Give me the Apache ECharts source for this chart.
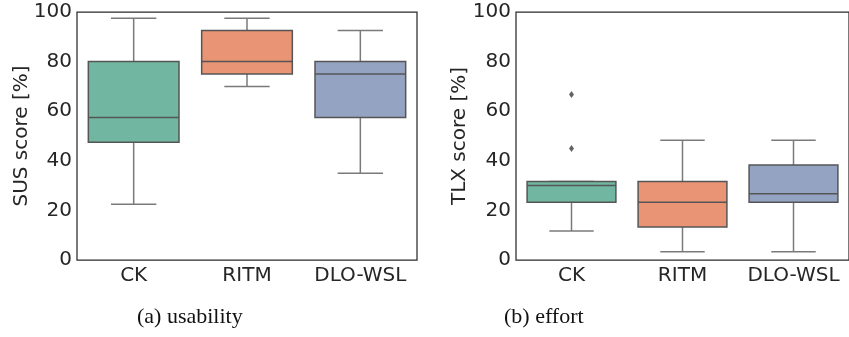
<!DOCTYPE html>
<html>
<head>
<meta charset="utf-8">
<script src="https://cdn.jsdelivr.net/npm/echarts@6/dist/echarts.min.js"></script>
<style>
html,body{margin:0;padding:0;background:#fff;}
#chart{width:849px;height:337px;}
</style>
</head>
<body>
<div id="chart"></div>
<script>
// ---- data ----
var categories = ['CK', 'RITM', 'DLO-WSL'];
var yTicks = [0, 20, 40, 60, 80, 100];
// [min whisker, Q1, median, Q3, max whisker]
var susCK   = [22.5, 47.5, 57.5, 80, 97.5];
var susRITM = [70, 75, 80, 92.5, 97.5];
var susDLO  = [35, 57.5, 75, 80, 92.5];
var tlxCK   = [11.7, 23.3, 30, 31.7, 31.7];
var tlxRITM = [3.3, 13.3, 23.3, 31.7, 48.3];
var tlxDLO  = [3.3, 23.3, 26.7, 38.3, 48.3];
var tlxOutlierCat = ['CK', 'CK'];
var tlxOutliers = [45, 66.7];
var colors = ['#71b6a0', '#e99575', '#95a3c3'];
var captions = ['(a) usability', '(b) effort'];
var yNames = ['SUS score [%]', 'TLX score [%]'];

var chart = echarts.init(document.getElementById('chart'), null, {renderer: 'canvas'});

function boxData(arrs) {
  return arrs.map(function (a, i) {
    return {value: [i].concat(a), itemStyle: {color: colors[i]}};
  });
}

function renderBox(params, api) {
  var xi = api.value(0);
  var c = api.coord([xi, api.value(3)]);
  var band = api.size([1, 0])[0];
  var bw = band * 0.8, cw = band * 0.4;
  var x = c[0];
  var yMin = api.coord([xi, api.value(1)])[1];
  var yQ1 = api.coord([xi, api.value(2)])[1];
  var yMed = api.coord([xi, api.value(3)])[1];
  var yQ3 = api.coord([xi, api.value(4)])[1];
  var yMax = api.coord([xi, api.value(5)])[1];
  var fill = colors[params.dataIndex];
  var wStyle = {stroke: '#7a7a7a', lineWidth: 1.5};
  var eStyle = {stroke: '#555555', lineWidth: 1.5};
  return {
    type: 'group',
    children: [
      {type: 'line', shape: {x1: x, y1: yQ1, x2: x, y2: yMin}, style: wStyle},
      {type: 'line', shape: {x1: x, y1: yQ3, x2: x, y2: yMax}, style: wStyle},
      {type: 'line', shape: {x1: x - cw / 2, y1: yMin, x2: x + cw / 2, y2: yMin}, style: wStyle},
      {type: 'line', shape: {x1: x - cw / 2, y1: yMax, x2: x + cw / 2, y2: yMax}, style: wStyle},
      {type: 'rect', shape: {x: x - bw / 2, y: yQ3, width: bw, height: yQ1 - yQ3},
        style: {fill: fill, stroke: '#555555', lineWidth: 1.5}},
      {type: 'line', shape: {x1: x - bw / 2, y1: yMed, x2: x + bw / 2, y2: yMed}, style: eStyle}
    ]
  };
}

var labelFont = {fontFamily: 'DejaVu Sans', fontSize: 20, color: '#262626'};

function xAxisOpt(gi) {
  return {
    type: 'category', gridIndex: gi, data: categories,
    axisLine: {show: false}, axisTick: {show: false},
    axisLabel: Object.assign({margin: 6, interval: 0}, labelFont),
    splitLine: {show: false}
  };
}
function yAxisOpt(gi) {
  return {
    type: 'value', gridIndex: gi, min: 0, max: 100, interval: 20,
    name: yNames[gi], nameLocation: 'middle', nameGap: gi === 0 ? 45 : 46,
    nameMoveOverlap: false,
    nameTextStyle: {fontFamily: 'DejaVu Sans', fontSize: 20, color: '#262626'},
    axisLine: {show: false}, axisTick: {show: false},
    axisLabel: Object.assign({margin: 5, formatter: function (v) { return yTicks.indexOf(v) >= 0 ? String(v) : ''; }}, labelFont),
    splitLine: {show: false}
  };
}

var option = {
  animation: false,
  backgroundColor: '#ffffff',
  grid: [
    {left: 77, top: 12, width: 340, height: 248, show: true, borderColor: '#2b2b2b', borderWidth: 1.25, backgroundColor: 'transparent'},
    {left: 516, top: 12, width: 340, height: 248, show: true, borderColor: '#2b2b2b', borderWidth: 1.25, backgroundColor: 'transparent'}
  ],
  xAxis: [xAxisOpt(0), xAxisOpt(1)],
  yAxis: [yAxisOpt(0), yAxisOpt(1)],
  graphic: [
    {type: 'text', left: 137, top: 306, style: {text: captions[0], font: '22px "Liberation Serif"', fill: '#111'}},
    {type: 'text', left: 504, top: 306, style: {text: captions[1], font: '22px "Liberation Serif"', fill: '#111'}}
  ],
  series: [
    {type: 'custom', xAxisIndex: 0, yAxisIndex: 0, renderItem: renderBox,
      encode: {x: 0, y: [1, 2, 3, 4, 5]}, data: boxData([susCK, susRITM, susDLO])},
    {type: 'custom', xAxisIndex: 1, yAxisIndex: 1, renderItem: renderBox,
      encode: {x: 0, y: [1, 2, 3, 4, 5]}, data: boxData([tlxCK, tlxRITM, tlxDLO])},
    {type: 'scatter', xAxisIndex: 1, yAxisIndex: 1, symbol: 'diamond', symbolSize: [5, 7],
      itemStyle: {color: '#3d3d3d'},
      data: tlxOutliers.map(function (v, i) { return [tlxOutlierCat[i], v]; })}
  ]
};
chart.setOption(option);
</script>
</body>
</html>
